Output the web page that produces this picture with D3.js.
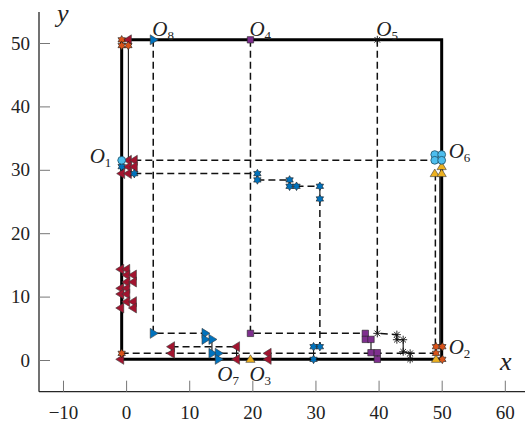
<!DOCTYPE html>
<html><head><meta charset="utf-8">
<script src="https://cdn.jsdelivr.net/npm/d3@7"></script>
<style>body{margin:0;background:#fff}svg{display:block}</style>
</head><body><div id="chart"></div>
<script>
// ---------- data ----------
const xTicks = [-10, 0, 10, 20, 30, 40, 50, 60];
const yTicks = [0, 10, 20, 30, 40, 50];

const boundary = [[-0.7, 0.1], [50, 0.1], [50, 50.5], [-0.7, 50.5]];

const dashedPaths = [
  [[1.3, 31.5], [48.9, 31.5]],
  [[1.3, 29.4], [20.8, 29.4]],
  [[20.8, 28.4], [25.9, 28.4]],
  [[27.0, 27.4], [30.7, 27.4]],
  [[30.7, 25.4], [30.7, 2.1]],
  [[4.3, 50.5], [4.3, 4.2], [12.5, 4.2]],
  [[19.7, 50.5], [19.7, 4.2], [37.9, 4.2]],
  [[39.8, 50.5], [39.8, 4.2], [42.9, 4.0]],
  [[7.2, 2.1], [17.5, 2.1]],
  [[-0.7, 1.05], [49.1, 1.05]],
  [[49.0, 29.4], [49.0, 1.05]]
];

const solidPaths = [
  [[0.36, 49.6], [0.36, 31.5]],
  [[49.7, 29.4], [49.7, 2.1]],
  [[12.5, 4.2], [12.5, 3.25], [13.6, 3.25], [13.6, 1.05], [14.6, 1.05], [14.6, 0.1]],
  [[37.9, 4.2], [37.9, 3.25], [38.8, 3.25], [38.8, 1.15], [39.8, 1.15], [39.8, 0.1]],
  [[42.9, 4.0], [42.9, 3.2], [43.9, 3.2], [43.9, 1.3], [45.0, 1.05], [45.0, 0.1]],
  [[20.8, 29.4], [20.8, 28.4]],
  [[25.9, 28.4], [25.9, 27.4], [27.0, 27.4]],
  [[30.7, 27.4], [30.7, 25.4]],
  [[30.7, 2.1], [29.7, 2.1], [29.7, 0.1]],
  [[7.2, 2.1], [7.2, 1.05]],
  [[17.5, 2.1], [17.5, 0.1]]
];

const blueTri = [[4.3, 50.5], [4.3, 4.2], [12.5, 4.2], [12.5, 3.25], [13.6, 3.25], [13.6, 1.05], [14.6, 1.05], [14.6, 0.1]];
const blueHex = [[-0.7, 30.5], [1.3, 29.4], [20.8, 29.4], [20.8, 28.4], [25.9, 28.4], [25.9, 27.4], [27.0, 27.4],
  [30.7, 27.4], [30.7, 25.4], [30.7, 2.1], [29.7, 2.1], [29.7, 0.1]];
const redTri = [[0.36, 50.5],
  [0.36, 31.5], [1.3, 31.5], [0.36, 30.5], [1.3, 30.5], [-0.7, 29.4], [0.36, 29.4],
  [-0.85, 14.3], [0.1, 14.3], [0.1, 13.4], [1.16, 13.4], [0.1, 12.3], [1.16, 12.3],
  [-0.85, 11.3], [0.1, 11.3], [-0.85, 10.4], [0.1, 10.4], [0.1, 9.2], [1.16, 9.2], [-0.85, 8.2], [1.16, 8.2],
  [7.2, 2.1], [7.2, 1.05], [17.5, 2.1], [17.5, 0.1], [22.5, 1.05], [22.5, 0.1], [-0.85, 0.1]];
const orangeHex = [[-0.7, 50.5], [-0.7, 49.6], [0.36, 49.6], [-0.7, 1.05],
  [49.1, 2.1], [50.1, 2.1], [49.1, 1.05], [50.1, 0.1]];
const yellowTri = [[50, 30.5], [48.9, 29.4], [50, 29.4], [49.1, 0.1], [19.7, 0.1]];
const cyanCircle = [[-0.7, 31.5], [48.9, 32.4], [50, 32.4], [48.9, 31.5], [50, 31.5]];
const purpleSq = [[19.7, 50.5], [19.7, 4.2], [37.9, 4.2], [37.9, 3.25], [38.8, 3.25], [38.8, 1.15], [39.8, 1.15], [39.8, 0.1]];
const blackStar = [[39.8, 50.5], [39.8, 4.2], [42.9, 4.0], [42.9, 3.2], [43.9, 3.2], [43.9, 1.3], [45.0, 1.05], [45.0, 0.1]];

const labels = [
  {sub: "1", at: [-0.7, 31.5], side: "left"},
  {sub: "2", at: [50, 0.1], side: "rightlow"},
  {sub: "3", at: [19.7, 0.1], side: "below"},
  {sub: "4", at: [19.7, 50.5], side: "above"},
  {sub: "5", at: [39.8, 50.5], side: "above"},
  {sub: "6", at: [50, 31.5], side: "right"},
  {sub: "7", at: [14.6, 0.1], side: "below"},
  {sub: "8", at: [4.3, 50.5], side: "above"}
];

// ---------- drawing ----------
const W = 525, H = 423;
const FONT = "'Liberation Serif', 'Times New Roman', serif";
const svg = d3.select("#chart").append("svg").attr("width", W).attr("height", H);
const x = d3.scaleLinear().domain([-13.8, 63.2]).range([39, 525]);
const y = d3.scaleLinear().domain([-5, 55]).range([391.7, 11.3]);

// axes
const gx = svg.append("g").attr("transform", `translate(0,${y(-5)})`)
  .call(d3.axisBottom(x).tickValues(xTicks).tickSizeInner(-11).tickSizeOuter(0).tickPadding(14)
    .tickFormat(d => d < 0 ? "\u2212" + Math.abs(d) : d));
const gy = svg.append("g").attr("transform", `translate(${x(-13.8)},0)`)
  .call(d3.axisLeft(y).tickValues(yTicks).tickSizeInner(-11).tickSizeOuter(0).tickPadding(9));
[gx, gy].forEach(g => {
  g.select(".domain").attr("stroke", "#262626").attr("stroke-width", 1.3);
  g.selectAll(".tick line").attr("stroke", "#777").attr("stroke-width", 1);
  g.selectAll(".tick text").style("font-family", FONT).style("font-size", "19px").attr("fill", "#222");
});
gx.select(".domain").attr("d", `M${x(-13.8)},0H${W}`);
gy.select(".domain").attr("d", `M0,${y(-5)}V${12}`);

svg.append("text").attr("x", 500).attr("y", 370).style("font-family", FONT).style("font-style", "italic")
  .style("font-size", "26px").attr("fill", "#222").text("x");
svg.append("text").attr("x", 57).attr("y", 22).style("font-family", FONT).style("font-style", "italic")
  .style("font-size", "26px").attr("fill", "#222").text("y");

const line = d3.line().x(d => x(d[0])).y(d => y(d[1]));

// boundary
svg.append("path").attr("d", line(boundary) + "Z").attr("fill", "none")
  .attr("stroke", "#000").attr("stroke-width", 3);

// thin solid connectors
svg.append("g").selectAll("path").data(solidPaths).join("path")
  .attr("d", line).attr("fill", "none").attr("stroke", "#111").attr("stroke-width", 1.1);

// dashed routes
svg.append("g").selectAll("path").data(dashedPaths).join("path")
  .attr("d", line).attr("fill", "none").attr("stroke", "#111").attr("stroke-width", 1.5)
  .attr("stroke-dasharray", "7,4");

// marker shapes
function tri(dir, r) {
  let pts;
  if (dir === "right") pts = [[r, 0], [-r * 0.6, -r], [-r * 0.6, r]];
  else if (dir === "left") pts = [[-r, 0], [r * 0.6, -r], [r * 0.6, r]];
  else pts = [[0, -r], [r, r * 0.65], [-r, r * 0.65]];
  return "M" + pts.map(p => p.join(",")).join("L") + "Z";
}
function hexagram(r) {
  const pts = [];
  for (let i = 0; i < 12; i++) {
    const a = -Math.PI / 2 + i * Math.PI / 6;
    const rr = i % 2 === 0 ? r : r * 0.58;
    pts.push([rr * Math.cos(a), rr * Math.sin(a)]);
  }
  return "M" + pts.map(p => p.map(v => v.toFixed(2)).join(",")).join("L") + "Z";
}
function square(s) { return `M${-s},${-s}H${s}V${s}H${-s}Z`; }
function asterisk(r) {
  const d = r * 0.7;
  return `M${-r},0H${r}M0,${-r}V${r}M${-d},${-d}L${d},${d}M${-d},${d}L${d},${-d}`;
}

function markers(data, shape, fill, stroke, sw) {
  svg.append("g").selectAll("path").data(data).join("path")
    .attr("transform", d => `translate(${x(d[0])},${y(d[1])})`)
    .attr("d", shape).attr("fill", fill).attr("stroke", stroke).attr("stroke-width", sw);
}
markers(redTri, tri("left", 5), "#A2142F", "#3a3a3a", 0.6);
markers(blueTri, tri("right", 5), "#0072BD", "#3a3a3a", 0.6);
markers(blueHex, hexagram(4.3), "#0072BD", "#1a1a1a", 0.6);
markers(orangeHex, hexagram(4.3), "#D95319", "#1a1a1a", 0.6);
markers(yellowTri, tri("up", 4.6), "#EDB120", "#3a3a3a", 0.6);
markers(purpleSq, square(3.2), "#7E2F8E", "#222", 0.6);
markers(cyanCircle, d3.symbol(d3.symbolCircle, 48)(), "#4DBEEE", "#1d4f66", 0.8);
markers(blackStar, asterisk(4), "none", "#111", 0.9);

// O labels
const lab = svg.append("g").attr("fill", "#222");
labels.forEach(l => {
  const px = x(l.at[0]), py = y(l.at[1]);
  let tx, ty;
  if (l.side === "above") { tx = px - 1; ty = py - 4; }
  else if (l.side === "below") { tx = px - 1; ty = py + 22; }
  else if (l.side === "left") { tx = px - 32; ty = py + 3; }
  else if (l.side === "right") { tx = px + 7; ty = py - 2; }
  else { tx = px + 7; ty = py - 5; }
  const t = lab.append("text").attr("x", tx).attr("y", ty).style("font-family", FONT);
  t.append("tspan").style("font-style", "italic").style("font-size", "21px").text("O");
  t.append("tspan").style("font-size", "13px").attr("dy", 4).text(l.sub);
});
</script>
</body></html>
